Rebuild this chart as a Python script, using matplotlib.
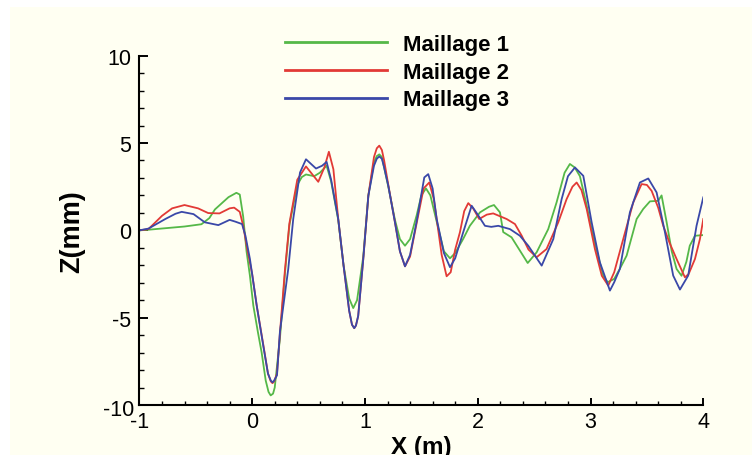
import matplotlib
matplotlib.use("Agg")
import matplotlib.pyplot as plt
from matplotlib.ticker import MultipleLocator, FixedLocator
from matplotlib.patches import Rectangle

# ---- data ----
m1_x = [-1.0, -0.93, -0.6, -0.45, -0.38, -0.33, -0.21, -0.14, -0.11, -0.08, -0.05, -0.02, 0.01, 0.05, 0.084,
        0.12, 0.145, 0.164, 0.185, 0.2, 0.246, 0.29, 0.33, 0.40, 0.44, 0.477, 0.55, 0.60, 0.66, 0.70, 0.763, 0.81,
        0.86, 0.896, 0.93, 0.985, 1.03, 1.08, 1.105, 1.127, 1.15, 1.17, 1.207, 1.266, 1.31, 1.355, 1.40, 1.458,
        1.50, 1.541, 1.58, 1.636, 1.70, 1.754, 1.80, 1.87, 1.93, 2.02, 2.10, 2.144, 2.197, 2.226, 2.30, 2.374,
        2.443, 2.522, 2.625, 2.699, 2.77, 2.817, 2.86, 2.906, 2.96, 3.01, 3.06, 3.113, 3.152, 3.21, 3.26, 3.32,
        3.409, 3.467, 3.527, 3.60, 3.63, 3.675, 3.72, 3.763, 3.807, 3.85, 3.88, 3.926, 4.0]
m1_z = [0.0, 0.03, 0.22, 0.35, 0.7, 1.2, 1.9, 2.15, 2.05, 0.8, -1.2, -2.6, -4.3, -5.8, -7.0,
        -8.6, -9.25, -9.45, -9.35, -9.0, -6.2, -2.5, 0.3, 2.6, 3.05, 3.2, 3.1, 3.3, 3.7, 2.8, 0.6, -2.0,
        -3.9, -4.45, -4.0, -1.5, 2.0, 3.9, 4.25, 4.35, 4.2, 3.6, 2.5, 0.6, -0.5, -0.88, -0.5, 0.85,
        2.0, 2.4, 2.0, 0.5, -1.2, -1.6, -1.3, -0.5, 0.26, 1.03, 1.35, 1.45, 1.03, -0.1, -0.4, -1.16,
        -1.87, -1.26, 0.07, 1.6, 3.3, 3.8, 3.6, 3.1, 1.6, 0.07, -1.3, -2.6, -2.97, -2.78, -2.2, -1.45,
        0.65, 1.22, 1.66, 1.69, 2.0, 0.46, -1.2, -2.21, -2.6, -1.8, -0.88, -0.31, -0.27]

m2_x = [-1.0, -0.92, -0.80, -0.71, -0.60, -0.48, -0.39, -0.29, -0.20, -0.16, -0.11, -0.08, -0.04, 0.0, 0.04,
        0.10, 0.14, 0.165, 0.18, 0.195, 0.22, 0.246, 0.29, 0.33, 0.40, 0.477, 0.586, 0.64, 0.68, 0.72, 0.763,
        0.81, 0.86, 0.885, 0.905, 0.92, 0.94, 0.985, 1.03, 1.08, 1.105, 1.127, 1.15, 1.17, 1.207, 1.266, 1.31,
        1.355, 1.40, 1.458, 1.52, 1.57, 1.61, 1.636, 1.68, 1.724, 1.76, 1.80, 1.842, 1.88, 1.916, 1.96, 2.013,
        2.08, 2.137, 2.20, 2.256, 2.33, 2.39, 2.45, 2.522, 2.61, 2.714, 2.788, 2.84, 2.877, 2.92, 2.966, 3.039,
        3.10, 3.157, 3.21, 3.29, 3.379, 3.453, 3.50, 3.542, 3.60, 3.645, 3.70, 3.763, 3.837, 3.87, 3.926, 3.97,
        4.0]
m2_z = [0.0, 0.07, 0.83, 1.26, 1.45, 1.26, 0.99, 0.97, 1.26, 1.3, 1.06, 0.26, -1.2, -2.5, -4.3,
        -6.6, -8.2, -8.65, -8.75, -8.65, -8.2, -5.9, -2.3, 0.4, 2.9, 3.66, 2.78, 3.6, 4.5, 3.5, 0.65,
        -2.0, -4.6, -5.4, -5.6, -5.45, -4.9, -1.64, 1.98, 4.2, 4.7, 4.85, 4.6, 4.0, 2.6, 0.46, -1.2,
        -2.06, -1.5, 0.4, 2.4, 2.74, 1.8, 0.65, -1.4, -2.63, -2.4, -1.1, -0.11, 1.1, 1.56, 1.25, 0.65,
        0.9, 0.97, 0.8, 0.65, 0.36, -0.31, -1.1, -1.54, -1.07, 0.46, 1.79, 2.5, 2.74, 2.3, 1.22, -1.07,
        -2.6, -3.16, -2.4, -0.5, 1.6, 2.65, 2.6, 2.26, 1.3, 0.26, -0.7, -1.64, -2.69, -2.5, -1.64, -0.5,
        0.65]

m3_x = [-1.0, -0.92, -0.77, -0.68, -0.625, -0.52, -0.42, -0.30, -0.20, -0.15, -0.09, -0.06, -0.02, 0.04,
        0.098, 0.14, 0.165, 0.18, 0.195, 0.22, 0.246, 0.32, 0.364, 0.424, 0.477, 0.566, 0.62, 0.66, 0.70,
        0.763, 0.81, 0.86, 0.885, 0.905, 0.92, 0.94, 0.985, 1.03, 1.08, 1.105, 1.127, 1.15, 1.17, 1.207,
        1.266, 1.31, 1.355, 1.40, 1.458, 1.526, 1.561, 1.60, 1.636, 1.70, 1.754, 1.80, 1.871, 1.946, 2.0,
        2.064, 2.12, 2.182, 2.286, 2.374, 2.448, 2.567, 2.67, 2.744, 2.80, 2.862, 2.936, 3.01, 3.083, 3.172,
        3.21, 3.26, 3.349, 3.438, 3.512, 3.586, 3.66, 3.733, 3.793, 3.866, 3.94, 4.0]
m3_z = [0.0, 0.1, 0.65, 0.95, 1.06, 0.93, 0.46, 0.3, 0.6, 0.5, 0.36, -0.3, -1.64, -4.3,
        -6.6, -8.2, -8.6, -8.7, -8.6, -8.3, -5.8, -2.2, 0.65, 3.31, 4.07, 3.54, 3.7, 3.92, 2.9,
        0.65, -2.0, -4.6, -5.4, -5.6, -5.45, -4.9, -1.64, 1.98, 3.7, 4.1, 4.23, 4.1, 3.6, 2.55,
        0.46, -1.2, -2.06, -1.4, 0.5, 3.03, 3.22, 2.4, 0.65, -1.3, -2.11, -1.6, -0.11, 1.41, 0.9,
        0.26, 0.2, 0.26, 0.07, -0.31, -0.88, -2.02, -0.5, 1.79, 3.1, 3.6, 3.12, 0.46, -1.83, -3.45,
        -2.97, -2.21, 1.03, 2.74, 2.97, 2.17, -0.11, -2.59, -3.39, -2.59, 0.26, 1.89]

series_names = ["Maillage 1", "Maillage 2", "Maillage 3"]
series_colors = ["#55B848", "#E23A36", "#3A48A8"]
x_ticks = [-1, 0, 1, 2, 3, 4]
y_ticks = [-10, -5, 0, 5, 10]

# ---- figure ----
W, H = 752, 456
bg = "#FFFFF2"
fig = plt.figure(figsize=(W / 100, H / 100), dpi=100, facecolor="white")
fig.patches.append(Rectangle((10 / W, 0), 1, 1 - 8 / H, transform=fig.transFigure,
                             facecolor=bg, edgecolor="none", zorder=-10))

ax = fig.add_axes([139.4 / W, 1 - 406 / H, (703.3 - 139.4) / W, (406 - 56.7) / H])
ax.set_facecolor(bg)
ax.patch.set_alpha(0)

font = "Liberation Sans"
for xs, zs, name, col in zip([m1_x, m2_x, m3_x], [m1_z, m2_z, m3_z], series_names, series_colors):
    ax.plot(xs, zs, color=col, lw=1.3, label=name, solid_joinstyle="round")

ax.set_xlim(-1, 4)
ax.set_ylim(-10, 10)
for s in ["top", "right"]:
    ax.spines[s].set_visible(False)
for s in ["left", "bottom"]:
    ax.spines[s].set_linewidth(1.5)
    ax.spines[s].set_color("black")

ax.xaxis.set_major_locator(FixedLocator(x_ticks))
ax.yaxis.set_major_locator(FixedLocator(y_ticks))
ax.xaxis.set_minor_locator(MultipleLocator(0.2))
ax.yaxis.set_minor_locator(MultipleLocator(1))
ax.set_xticklabels([str(t) for t in x_ticks])
ax.set_yticklabels(["" if t == -10 else str(t) for t in y_ticks])

ax.tick_params(axis="x", which="major", direction="in", length=5.4, width=1.4, pad=4.3, labelsize=15.5)
ax.tick_params(axis="x", which="minor", direction="in", length=2.6, width=1.0)
ax.tick_params(axis="y", which="major", direction="in", length=6.3, width=1.4, pad=6.0, labelsize=15.5)
ax.tick_params(axis="y", which="minor", direction="in", length=3.6, width=1.0)
for lab in ax.get_xticklabels() + ax.get_yticklabels():
    lab.set_fontfamily(font)

# "-10" label sits lower and closer to the axis in the reference
ax.annotate("-10", xy=(0, -10), xycoords=("axes fraction", "data"),
            xytext=(-3.5, -3), textcoords="offset points", ha="right", va="center",
            fontsize=15.5, family=font)

ax.set_xlabel("X (m)", fontsize=17.5, fontweight="bold", family=font, labelpad=2)
ax.set_ylabel("Z(mm)", fontsize=19.5, fontweight="bold", family=font, labelpad=16)

leg = ax.legend(loc="upper left", bbox_to_anchor=(285 / W, 1 - 35 / H),
                bbox_transform=fig.transFigure, frameon=False, borderpad=0, borderaxespad=0,
                handlelength=4.6, handletextpad=0.72, labelspacing=0.30,
                prop={"family": font, "weight": "bold", "size": 16})
for line in leg.get_lines():
    line.set_linewidth(2.0)

fig.savefig("out.png", dpi=100, facecolor=fig.get_facecolor())
